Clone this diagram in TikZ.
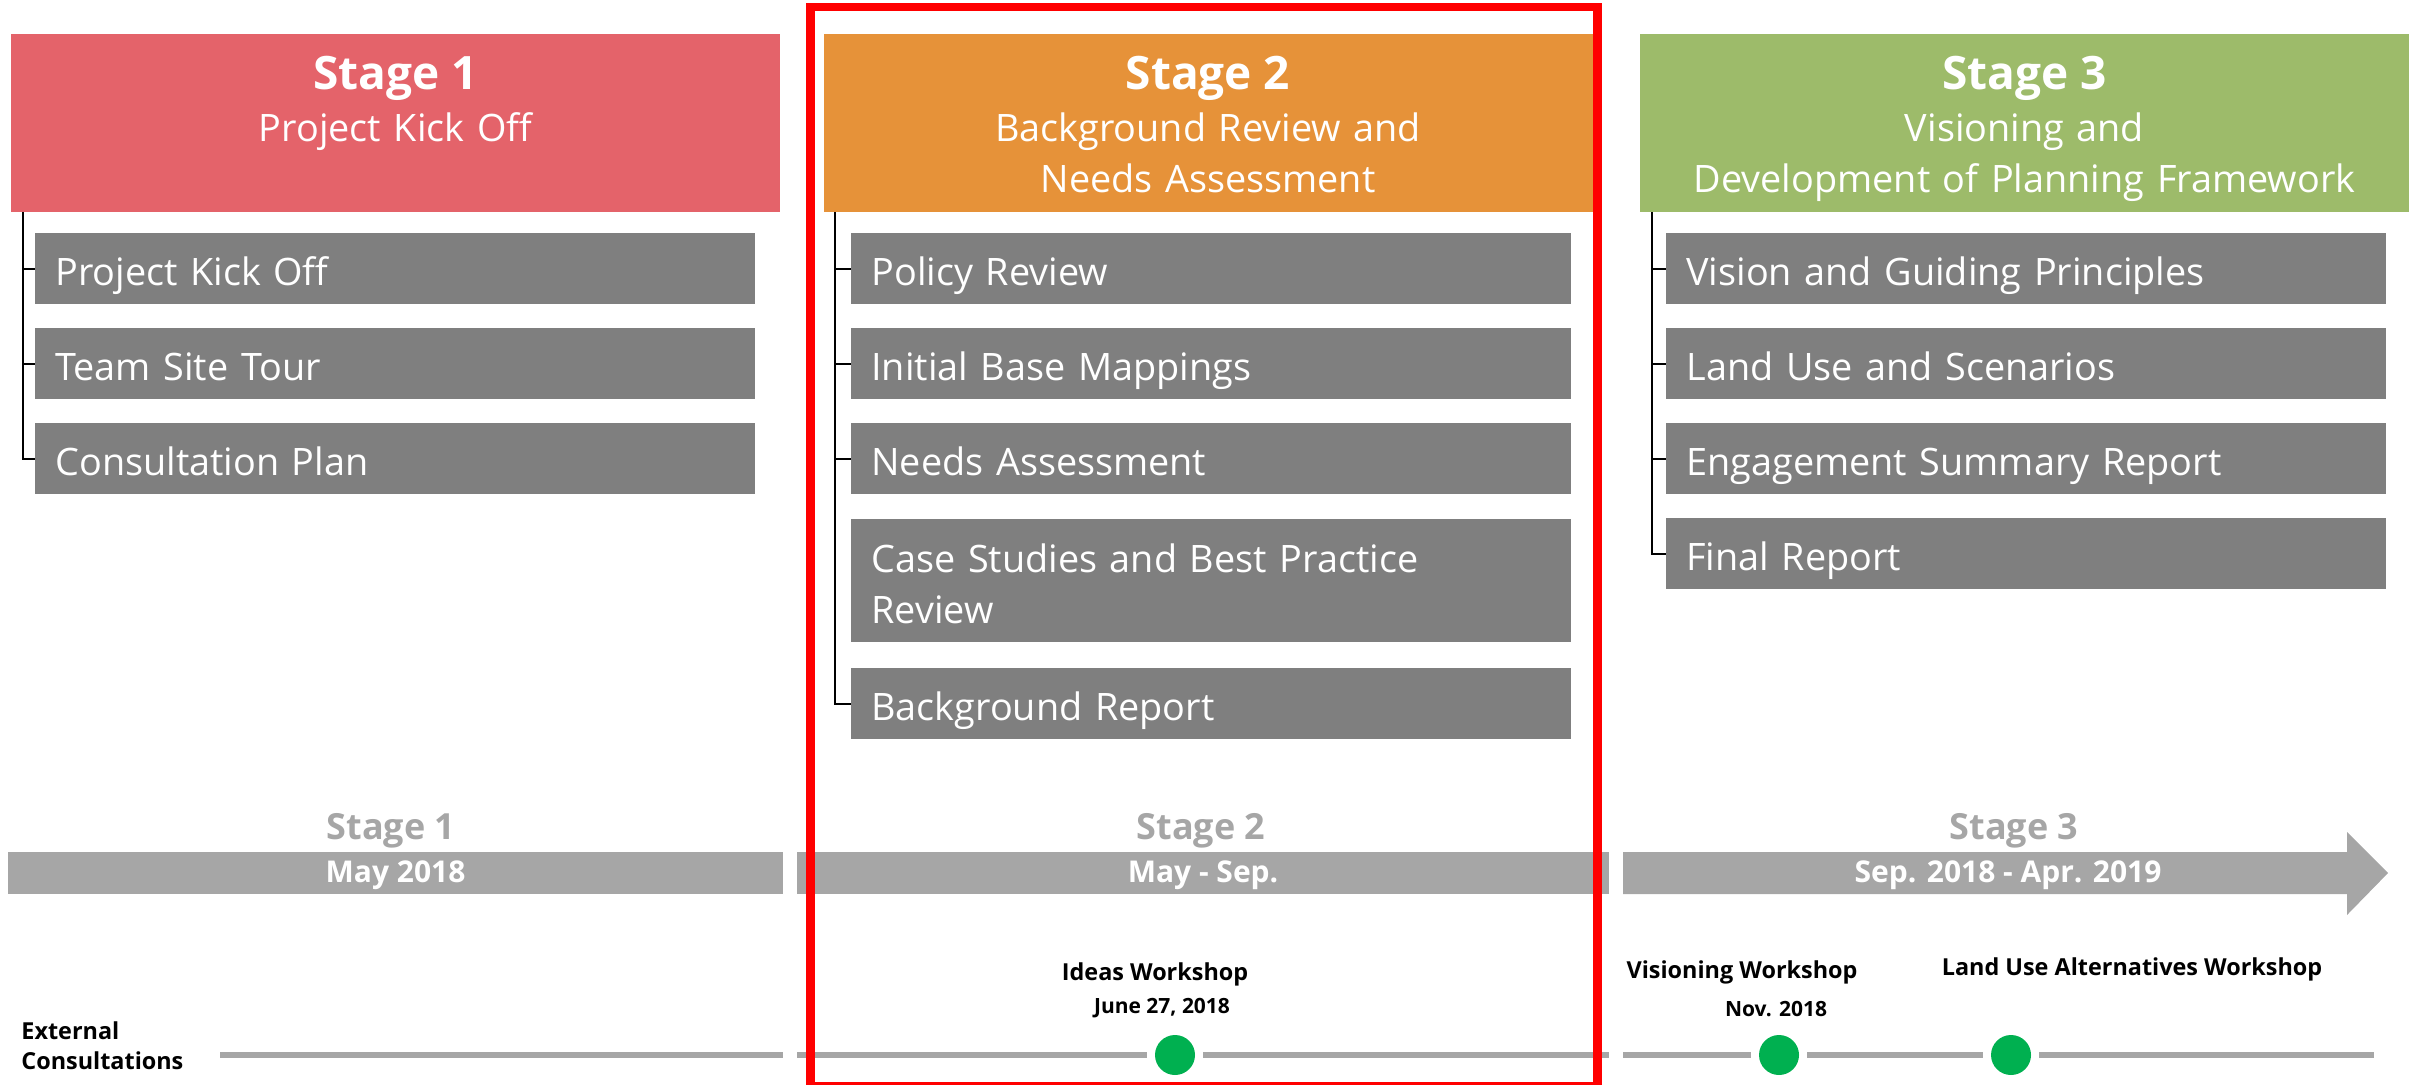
\documentclass[tikz,border=0pt]{standalone}
\usepackage{fontspec}
\setmainfont{Open Sans}
\definecolor{stageone}{HTML}{E4636A}
\definecolor{stagetwo}{HTML}{E69239}
\definecolor{stagethree}{HTML}{9DBB6A}
\definecolor{taskgray}{HTML}{7F7F7F}
\definecolor{linegray}{HTML}{A6A6A6}
\definecolor{dotgreen}{HTML}{00B050}
\definecolor{framered}{HTML}{FF0000}

\begin{document}
\begin{tikzpicture}[x=0.5pt,y=-0.5pt,
    header/.style={rectangle, minimum width=384.5pt, minimum height=89pt, inner sep=0pt},
    htitle/.style={anchor=base, text=white, inner sep=0pt, font=\fontsize{23}{27}\selectfont\bfseries},
    hsub/.style={anchor=base, text=white, inner sep=0pt, text width=380pt, align=center, font=\fontsize{18.9}{25.5}\selectfont},
    task/.style={rectangle, fill=taskgray, text=white, anchor=north west, text width=340pt, inner xsep=10pt, inner ysep=0pt,
        minimum height=35.5pt, align=left, text height=16.5pt, text depth=0pt, font=\fontsize{18.9}{25.5}\selectfont},
    link/.style={draw=black, line width=1pt},
    bar/.style={rectangle, fill=linegray, text=white, minimum height=21pt, inner sep=0pt, text height=9pt, text depth=0pt,
        font=\fontsize{15}{18}\selectfont\bfseries},
    tlstage/.style={anchor=base, text=linegray, inner sep=0pt, font=\fontsize{18}{21}\selectfont\bfseries},
    event/.style={anchor=base, inner sep=0pt, font=\fontsize{11.7}{14}\selectfont\bfseries},
    evdate/.style={anchor=base, inner sep=0pt, font=\fontsize{10.5}{12}\selectfont\bfseries},
    dot/.style={circle, fill=dotgreen, minimum size=20pt, inner sep=0pt, outer sep=4pt},
    track/.style={draw=linegray, line width=2.75pt},
    frame/.style={draw=framered, line width=4.25pt}
  ]
  \useasboundingbox (0,0) rectangle (2412,1085);

  % stage headers
  \node[header, fill=stageone] (h1) at (395.5,123) {};
  \node[htitle] (h1t) at (395.5,90) {Stage 1};
  \node[hsub] (h1s) at (395.5,142) {Project Kick Off};

  \node[header, fill=stagetwo] (h2) at (1208,123) {};
  \node[htitle] (h2t) at (1208,90) {Stage 2};
  \node[hsub] (h2s) at (1208,142) {Background Review and\\ Needs Assessment};

  \node[header, fill=stagethree] (h3) at (2024.5,123) {};
  \node[htitle] (h3t) at (2024.5,90) {Stage 3};
  \node[hsub] (h3s) at (2024.5,142) {Visioning and\\ Development of Planning Framework};

  % tasks
  \node[task] (t11) at (35,233) {Project Kick Off};
  \node[task] (t12) at (35,328) {Team Site Tour};
  \node[task] (t13) at (35,423) {Consultation Plan};

  \node[task] (t21) at (851,233) {Policy Review};
  \node[task] (t22) at (851,328) {Initial Base Mappings};
  \node[task] (t23) at (851,423) {Needs Assessment};
  \node[task, minimum height=61.5pt, text depth=25pt] (t24) at (851,519) {Case Studies and Best Practice\\ Review};
  \node[task] (t25) at (851,668) {Background Report};

  \node[task] (t31) at (1666,233) {Vision and Guiding Principles};
  \node[task] (t32) at (1666,328) {Land Use and Scenarios};
  \node[task] (t33) at (1666,423) {Engagement Summary Report};
  \node[task] (t34) at (1666,518) {Final Report};

  \foreach \t in {t11,t12,t13}
    \draw[link] ([xshift=6pt]h1.south west) |- (\t.west);
  \foreach \t in {t21,t22,t23,t25}
    \draw[link] ([xshift=6pt]h2.south west) |- (\t.west);
  \foreach \t in {t31,t32,t33,t34}
    \draw[link] ([xshift=6pt]h3.south west) |- (\t.west);

  % timeline
  \node[tlstage] (s1) at (391,839) {Stage 1};
  \node[tlstage] (s2) at (1201,839) {Stage 2};
  \node[tlstage] (s3) at (2014,839) {Stage 3};

  \node[bar, minimum width=387.5pt] (b1) at (395.5,873) {May 2018};
  \node[bar, minimum width=406pt] (b2) at (1203,873) {May - Sep.};
  \fill[linegray] (1623,852) -- (2347,852) -- (2347,832) -- (2388,873) -- (2347,915) -- (2347,894) -- (1623,894) -- cycle;
  \node[bar, fill=none] (b3) at (2008,873) {Sep. 2018 - Apr. 2019};

  % external consultations
  \node[anchor=base west, inner sep=0pt, text width=100pt, align=left, font=\fontsize{11.7}{15}\selectfont\bfseries] (ext) at (21,1039) {External\\ Consultations};

  \node[event] (e1) at (1155,980) {Ideas Workshop};
  \node[evdate] (d1) at (1162,1013) {June 27, 2018};
  \node[event] (e2) at (1742,978) {Visioning Workshop};
  \node[evdate] (d2) at (1776,1016) {Nov. 2018};
  \node[event] (e3) at (2132,975) {Land Use Alternatives Workshop};

  \node[dot] (m1) at (1175,1055) {};
  \node[dot] (m2) at (1779,1055) {};
  \node[dot] (m3) at (2011,1055) {};

  \coordinate (k0) at (220,1055);
  \coordinate (k1) at (783,1055);
  \coordinate (k2) at (797,1055);
  \coordinate (k3) at (1609,1055);
  \coordinate (k4) at (1623,1055);
  \coordinate (k5) at (2374,1055);
  \draw[track] (k0) -- (k1);
  \draw[track] (k2) -- (m1);
  \draw[track] (m1) -- (k3);
  \draw[track] (k4) -- (m2);
  \draw[track] (m2) -- (m3);
  \draw[track] (m3) -- (k5);

  % focus frame
  \draw[frame] (810.5,7) rectangle (1597.5,1086);
\end{tikzpicture}
\end{document}
